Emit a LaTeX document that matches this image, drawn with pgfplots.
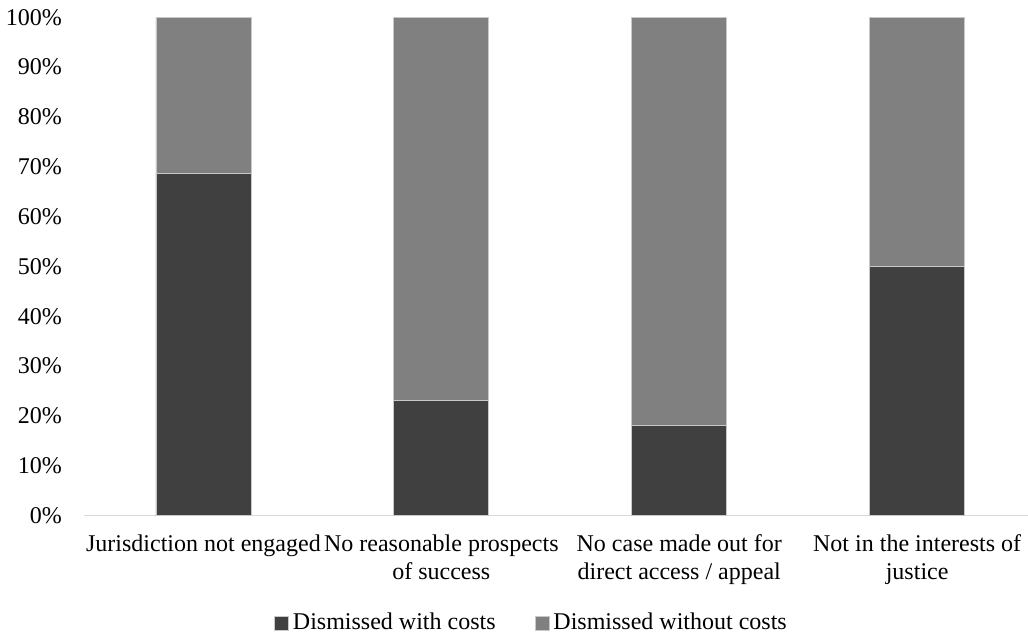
\documentclass[border=0pt]{standalone}
\usepackage{fontspec}
\setmainfont{Liberation Serif}
\usepackage{pgfplots}
\pgfplotsset{compat=1.18}

\definecolor{darkbar}{HTML}{404040}
\definecolor{lightbar}{HTML}{808080}
\definecolor{baredge}{HTML}{C8C8C8}
\definecolor{axisgray}{HTML}{D9D9D9}

\begin{document}
\begin{tikzpicture}
\begin{axis}[
  scale only axis,
  width=471.75pt, height=249.2pt,
  ybar stacked,
  bar width=47.5pt,
  xmin=-0.5, xmax=3.466,
  ymin=0, ymax=100,
  xtick={0,1,2,3},
  xticklabels={Jurisdiction not engaged, No reasonable prospects\\of success, No case made out for\\direct access / appeal, Not in the interests of\\justice},
  ytick={0,10,20,30,40,50,60,70,80,90,100},
  yticklabels={0\%,10\%,20\%,30\%,40\%,50\%,60\%,70\%,80\%,90\%,100\%},
  axis x line*=bottom,
  axis y line*=left,
  y axis line style={draw=none},
  x axis line style={draw=axisgray, line width=0.75pt, -},
  major tick length=0pt,
  tick style={draw=none},
  xticklabel style={align=center, font=\fontsize{12}{14}\selectfont, anchor=north, yshift=-6pt},
  yticklabel style={font=\fontsize{12}{14}\selectfont, anchor=east, xshift=-7.75pt},
  legend columns=2,
  legend style={
    at={(0.4748,-0.2153)}, anchor=center, draw=none, fill=none,
    font=\fontsize{12}{14}\selectfont,
    /tikz/every even column/.append style={column sep=17.5pt},
  },
  legend image code/.code={\fill[#1] (0.5pt,-3.5pt) rectangle (7.5pt,3.5pt);},
]
% share of dismissals, in percent
\addplot[fill=darkbar, draw=baredge, line width=0.4pt]
  coordinates {(0,68.75) (1,23.08) (2,18.18) (3,50)};
\addplot[fill=lightbar, draw=baredge, line width=0.4pt]
  coordinates {(0,31.25) (1,76.92) (2,81.82) (3,50)};
\legend{Dismissed with costs, Dismissed without costs}
\end{axis}
\pgfresetboundingbox
\path[use as bounding box] ([xshift=-42.25pt,yshift=-59.15pt]current axis.south west) rectangle ([yshift=8.65pt]current axis.north east);
\end{tikzpicture}
\end{document}
